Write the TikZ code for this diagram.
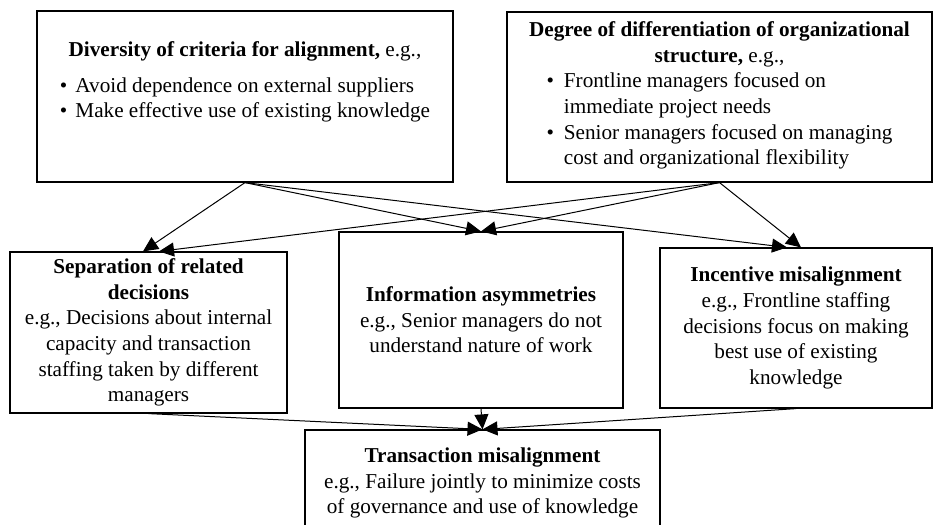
\documentclass[tikz,border=0pt]{standalone}
\usepackage{fontspec}
\setmainfont{Liberation Serif}
\usetikzlibrary{arrows.meta,positioning}

\begin{document}
\begin{tikzpicture}[
      font=\fontsize{10.6}{12.8}\selectfont,
      box/.style={draw,line width=0.6pt,align=center,inner sep=2pt},
      arr/.style={-{Triangle[length=7.5pt,width=7pt]},line width=0.5pt}]
    \useasboundingbox (0,0) rectangle (466.5pt,-262.5pt);
    \node[box,minimum width=208pt,minimum height=85.5pt] (crit) at (122.5pt,-48.25pt) {};
    \node[align=center] (crittext) at ([yshift=6.5pt]crit.center) {\textbf{Diversity of criteria for alignment,} e.g.,\\[5pt]
      \begin{tabular}[t]{@{}l@{\hspace{4pt}}l@{}}
        \textbullet & Avoid dependence on external suppliers\\
        \textbullet & Make effective use of existing knowledge
      \end{tabular}};
    \node[box,minimum width=212.5pt,minimum height=85pt] (diff) at (359.75pt,-48.5pt) {\textbf{Degree of differentiation of organizational}\\
      \textbf{structure,} e.g.,\\
      \begin{tabular}[t]{@{}l@{\hspace{5pt}}l@{}}
        \textbullet & Frontline managers focused on\\
                    & immediate project needs\\
        \textbullet & Senior managers focused on managing\\
                    & cost and organizational flexibility
      \end{tabular}};
    \node[box,minimum width=138.5pt,minimum height=80.5pt] (sep) at (74.25pt,-166.25pt) {\textbf{Separation of related}\\
      \textbf{decisions}\\e.g., Decisions about internal\\capacity and transaction\\staffing taken by different\\managers};
    \node[box,minimum width=142pt,minimum height=88pt] (info) at (240.5pt,-160pt) {\textbf{Information asymmetries}\\
      e.g., Senior managers do not\\understand nature of work};
    \node[box,minimum width=136pt,minimum height=80pt] (incent) at (398pt,-164pt) {\textbf{Incentive misalignment}\\
      e.g., Frontline staffing\\decisions focus on making\\best use of existing\\knowledge};
    \node[box,minimum width=177.5pt,minimum height=53pt] (trans) at (241.25pt,-241.5pt) {\textbf{Transaction misalignment}\\
      e.g., Failure jointly to minimize costs\\of governance and use of knowledge};
    \draw[arr] (crit.south)--([xshift=-2.75pt]sep.north);
    \draw[arr] (diff.south)--([xshift=5.25pt]sep.north);
    \draw[arr] (crit.south)--(info.north); \draw[arr] (diff.south)--(info.north);
    \draw[arr] (crit.south)--([xshift=-4.5pt]incent.north);
    \draw[arr] (diff.south)--([xshift=2.5pt]incent.north);
    \draw[arr] (sep.south)--(trans.north); \draw[arr] (info.south)--(trans.north);
    \draw[arr] (incent.south)--(trans.north);
  \end{tikzpicture}
\end{document}
